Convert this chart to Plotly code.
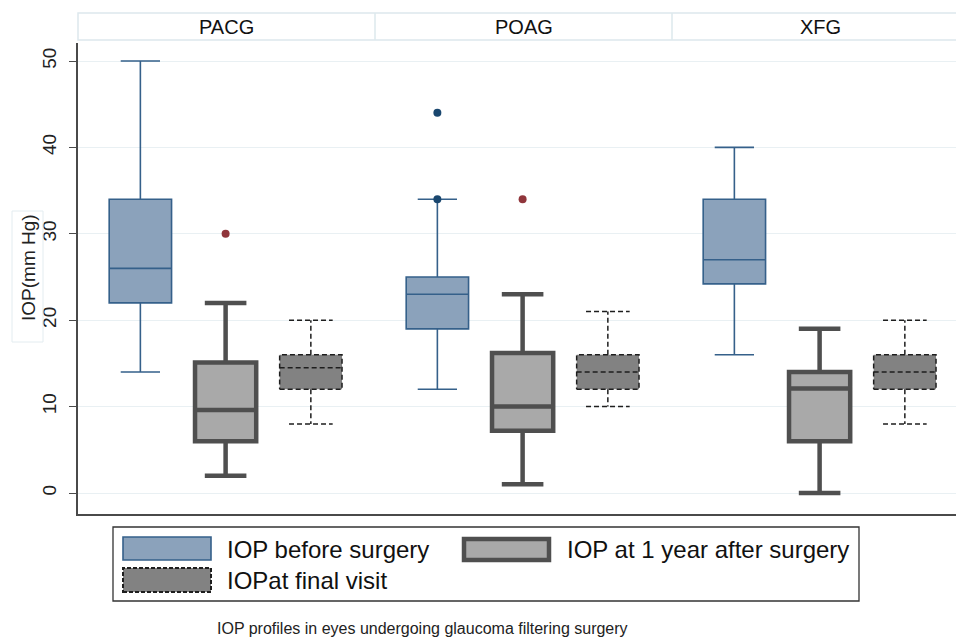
import plotly.graph_objects as go

# ---------------- data ----------------
groups = ["PACG", "POAG", "XFG"]

before_lo = [14, 12, 16]
before_q1 = [22, 19, 24.2]
before_med = [26, 23, 27]
before_q3 = [34, 25, 34]
before_hi = [50, 34, 40]
before_out = [[], [34, 44], []]

year1_lo = [2, 1, 0]
year1_q1 = [6, 7.2, 6]
year1_med = [9.6, 10, 12.1]
year1_q3 = [15.1, 16.2, 14]
year1_hi = [22, 23, 19]
year1_out = [[30], [34], []]

final_lo = [8, 10, 8]
final_q1 = [12, 12, 12]
final_med = [14.5, 14, 14]
final_q3 = [16, 16, 16]
final_hi = [20, 21, 20]

y_ticks = [0, 10, 20, 30, 40, 50]
legend_labels = ["IOP before surgery", "IOP at 1 year after surgery", "IOPat final visit"]
y_title = "IOP(mm Hg)"
caption = "IOP profiles in eyes undergoing glaucoma filtering surgery"

# ---------------- styling / layout ----------------
W, H = 956, 641
L, R, T, B = 78, 956, 43, 514
PW, PH = R - L, B - T
PANEL_PX = 297.0


def px(xp):
    return (xp - L) / PW


def py(yp):
    return (B - yp) / PH


FONT = "Liberation Sans, Arial, sans-serif"
BLUE_FILL = "#8ba2bb"
BLUE_LINE = "#35608a"
GRAY_FILL = "#a9a9a9"
GRAY_LINE = "#4f4f4f"
DARK_FILL = "#828282"
DASH_LINE = "#1e1e1e"
NAVY = "#1a476f"
MAROON = "#90353b"
GRID = "#e9f0f3"
AXIS = "#4a4a4a"
STRIP = "#dde8ed"

off = [0.21, 0.497, 0.784]
bw = 0.21

fig = go.Figure()

pos_before = [i + off[0] for i in range(len(groups))]
pos_year1 = [i + off[1] for i in range(len(groups))]
pos_final = [i + off[2] for i in range(len(groups))]

fig.add_trace(go.Box(
    x=pos_before, q1=before_q1, median=before_med, q3=before_q3,
    lowerfence=before_lo, upperfence=before_hi,
    width=bw, whiskerwidth=0.63, boxpoints=False,
    fillcolor=BLUE_FILL, line=dict(color=BLUE_LINE, width=1.6),
    showlegend=False, name=legend_labels[0]))

fig.add_trace(go.Box(
    x=pos_year1, q1=year1_q1, median=year1_med, q3=year1_q3,
    lowerfence=year1_lo, upperfence=year1_hi,
    width=0.206, whiskerwidth=0.68, boxpoints=False,
    fillcolor=GRAY_FILL, line=dict(color=GRAY_LINE, width=4.5),
    showlegend=False, name=legend_labels[1]))

# final visit: dashed box built from scatter traces
rx, ry = [], []
for c, a, b in zip(pos_final, final_q1, final_q3):
    x0, x1 = c - bw / 2, c + bw / 2
    rx += [x0, x1, x1, x0, x0, None]
    ry += [a, a, b, b, a, None]
fig.add_trace(go.Scatter(
    x=rx, y=ry, mode="lines", fill="toself", fillcolor=DARK_FILL,
    line=dict(color=DASH_LINE, width=1.5, dash="5px,3px"),
    showlegend=False, hoverinfo="skip"))

lx, ly = [], []
cw = bw * 0.7
for c, lo, a, m, b, hi in zip(pos_final, final_lo, final_q1, final_med, final_q3, final_hi):
    lx += [c - bw / 2, c + bw / 2, None]
    ly += [m, m, None]
    lx += [c, c, None, c, c, None]
    ly += [b, hi, None, a, lo, None]
    lx += [c - cw / 2, c + cw / 2, None, c - cw / 2, c + cw / 2, None]
    ly += [hi, hi, None, lo, lo, None]
fig.add_trace(go.Scatter(
    x=lx, y=ly, mode="lines",
    line=dict(color=DASH_LINE, width=1.5, dash="5px,3px"),
    showlegend=False, hoverinfo="skip"))

# outliers
ox, oy = [], []
for c, vals in zip(pos_before, before_out):
    for v in vals:
        ox.append(c)
        oy.append(v)
fig.add_trace(go.Scatter(x=ox, y=oy, mode="markers",
                         marker=dict(color=NAVY, size=8), showlegend=False))
ox, oy = [], []
for c, vals in zip(pos_year1, year1_out):
    for v in vals:
        ox.append(c)
        oy.append(v)
fig.add_trace(go.Scatter(x=ox, y=oy, mode="markers",
                         marker=dict(color=MAROON, size=8), showlegend=False))

shapes = []
annotations = []

# header strip
shapes.append(dict(type="rect", xref="paper", yref="paper",
                   x0=0, x1=1.02, y0=py(40), y1=py(13),
                   line=dict(color=STRIP, width=1.5), fillcolor="white", layer="below"))
for i in range(1, len(groups)):
    shapes.append(dict(type="line", xref="x", yref="paper", x0=i, x1=i,
                       y0=py(40), y1=py(13), line=dict(color=STRIP, width=1.5)))
for i, g in enumerate(groups):
    annotations.append(dict(text=g, xref="x", yref="paper", x=i + 0.5, y=py(27),
                            showarrow=False, font=dict(family=FONT, size=20, color="#111"),
                            xanchor="center", yanchor="middle"))

# y title with box
shapes.append(dict(type="rect", xref="paper", yref="paper",
                   x0=px(12), x1=px(43), y0=py(342), y1=py(211),
                   line=dict(color="#e3ecf0", width=1)))
annotations.append(dict(text=y_title, xref="paper", yref="paper", x=px(28), y=py(268),
                        showarrow=False, textangle=-90,
                        font=dict(family=FONT, size=19, color="#222"),
                        xanchor="center", yanchor="middle"))

# legend
shapes.append(dict(type="rect", xref="paper", yref="paper",
                   x0=px(113), x1=px(859), y0=py(601), y1=py(527),
                   line=dict(color="#333", width=1.3)))
shapes.append(dict(type="rect", xref="paper", yref="paper",
                   x0=px(123), x1=px(211), y0=py(560), y1=py(537),
                   fillcolor=BLUE_FILL, line=dict(color=BLUE_LINE, width=1.6)))
shapes.append(dict(type="rect", xref="paper", yref="paper",
                   x0=px(464), x1=px(549), y0=py(560), y1=py(539),
                   fillcolor=GRAY_FILL, line=dict(color=GRAY_LINE, width=4.5)))
shapes.append(dict(type="rect", xref="paper", yref="paper",
                   x0=px(123), x1=px(211), y0=py(592), y1=py(568),
                   fillcolor=DARK_FILL, line=dict(color=DASH_LINE, width=2, dash="4px,2px")))
for txt, xp_, yp_ in [(legend_labels[0], 225, 549), (legend_labels[1], 565, 549),
                      (legend_labels[2], 225, 580)]:
    annotations.append(dict(text=txt, xref="paper", yref="paper", x=px(xp_), y=py(yp_),
                            showarrow=False, xanchor="left", yanchor="middle",
                            font=dict(family=FONT, size=24, color="#111")))

annotations.append(dict(text=caption, xref="paper", yref="paper", x=px(422), y=py(628),
                        showarrow=False, xanchor="center", yanchor="middle",
                        font=dict(family=FONT, size=16, color="#222")))

# y range from pixel calibration: 0 at y=493, 50 at y=61
ppu = (493 - 61) / 50.0
y_min = -(B - 493) / ppu
y_max = 50 + (61 - T) / ppu

fig.update_layout(
    width=W, height=H,
    margin=dict(l=L, r=W - R, t=T, b=H - B),
    paper_bgcolor="white", plot_bgcolor="white",
    boxmode="overlay",
    showlegend=False,
    shapes=shapes, annotations=annotations,
    font=dict(family=FONT),
    xaxis=dict(range=[0, PW / PANEL_PX], showticklabels=False, showgrid=False,
               zeroline=False, showline=True, linecolor=AXIS, linewidth=1.5,
               ticks="", fixedrange=True),
    yaxis=dict(range=[y_min, y_max], tickvals=y_ticks, showgrid=True,
               gridcolor=GRID, gridwidth=1, zeroline=False,
               showline=True, linecolor=AXIS, linewidth=1.5,
               ticks="outside", ticklen=7, tickwidth=1.3, tickcolor=AXIS,
               tickangle=-90, ticklabelstandoff=6,
               tickfont=dict(family=FONT, size=19, color="#222"),
               fixedrange=True),
)

fig.write_html("out.html", config={"displayModeBar": False},
               post_script="document.body.style.margin='0px';document.body.style.overflow='hidden';")
